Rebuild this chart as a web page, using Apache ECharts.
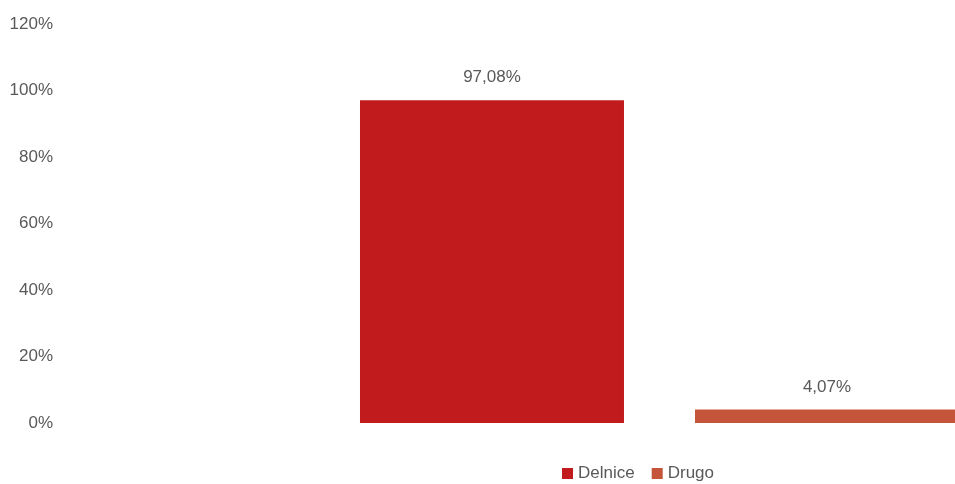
<!DOCTYPE html>
<html>
<head>
<meta charset="utf-8">
<script src="https://cdn.jsdelivr.net/npm/echarts@6/dist/echarts.min.js"></script>
<style>
html,body{margin:0;padding:0;background:#fff;}
#chart{width:955px;height:484px;}
</style>
</head>
<body>
<div id="chart"></div>
<script>
const categories = [''];
const seriesNames = ['Delnice', 'Drugo'];
const delniceValues = [97.08];
const drugoValues = [4.07];
const yTicks = [0, 20, 40, 60, 80, 100, 120];

const colors = ['#C21B1E', '#C4543A'];
const font = '"Liberation Sans", Arial, sans-serif';
const txt = '#595959';

const chart = echarts.init(document.getElementById('chart'));
const fmt = v => v.toFixed(2).replace('.', ',') + '%';

chart.setOption({
  animation: false,
  textStyle: { fontFamily: font },
  grid: { left: 61, top: 24, height: 399, width: 1197, outerBoundsMode: 'none', containLabel: false },
  legend: {
    data: seriesNames,
    left: 557,
    top: 460,
    itemWidth: 11,
    itemHeight: 11,
    itemGap: 17,
    icon: 'rect',
    textStyle: { fontSize: 17, color: txt, fontFamily: font }
  },
  xAxis: {
    type: 'category',
    data: categories,
    axisLine: { show: false },
    axisTick: { show: false },
    axisLabel: { show: false }
  },
  yAxis: {
    type: 'value',
    min: yTicks[0],
    max: yTicks[yTicks.length - 1],
    interval: 20,
    splitLine: { show: false },
    axisLine: { show: false },
    axisTick: { show: false },
    axisLabel: { margin: 8, fontSize: 17, color: txt, fontFamily: font, formatter: v => v + '%' }
  },
  series: [
    {
      name: seriesNames[0],
      type: 'bar',
      data: delniceValues,
      barWidth: 264,
      barGap: '26.9%',
      itemStyle: { color: colors[0] },
      label: { show: true, position: 'top', distance: 14, fontSize: 17, color: txt, fontFamily: font, formatter: p => fmt(p.value) }
    },
    {
      name: seriesNames[1],
      type: 'bar',
      data: drugoValues,
      barWidth: 264,
      barGap: '26.9%',
      itemStyle: { color: colors[1] },
      label: { show: true, position: 'top', distance: 14, fontSize: 17, color: txt, fontFamily: font, formatter: p => fmt(p.value) }
    }
  ]
});
</script>
</body>
</html>
